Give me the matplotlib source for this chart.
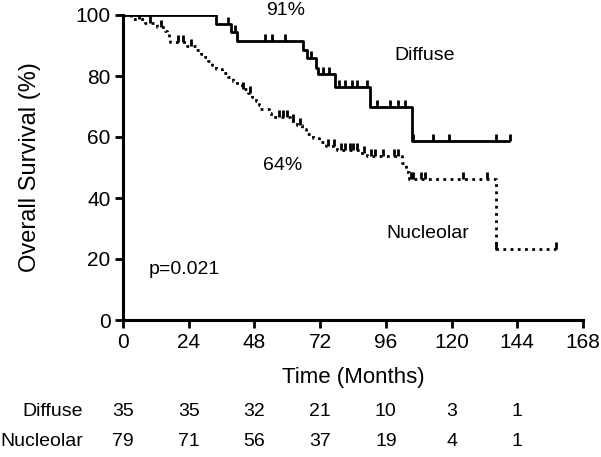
import matplotlib.pyplot as plt
import matplotlib.transforms as mtransforms
import numpy as np

plt.rcParams['font.family'] = ['Liberation Sans', 'DejaVu Sans']

# Kaplan-Meier steps (time in months, survival in %)
diffuse_t = [0, 34.0, 39.3, 41.8, 65.6, 67.1, 70.5, 71.3, 77.4, 90.2, 105.4]
diffuse_s = [100, 97.1, 94.3, 91.5, 88.5, 85.8, 82.7, 80.6, 76.3, 69.9, 58.7]
diffuse_end = 141.3
diffuse_cens = [38.5, 41.0, 52.0, 54.3, 59.0, 68.7, 73.2, 75.3, 79.0, 81.1,
                83.5, 85.3, 89.0, 92.7, 97.5, 100.5, 103.0, 106.0, 113.3,
                119.1, 136.2, 141.3]

nucl_t = [0, 3, 8, 12.5, 15.5, 16.2, 16.8, 17.3, 23.5, 26.5, 28.5, 30, 31.2,
          32.5, 34, 36, 38.5, 40, 41.5, 43.5, 45.5, 47, 48.5, 49.5, 50, 53.3,
          54, 61, 63.5, 65.5, 67, 69.5, 71.5, 74, 78, 86.5, 89, 102, 103.5,
          104.3, 136.2]
nucl_s = [100, 98.7, 97.5, 96.2, 94.9, 93.7, 92.4, 91.1, 89.9, 88.6, 87.3,
          86.1, 84.8, 83.5, 82.3, 81.0, 79.7, 78.4, 77.1, 75.8, 74.5, 73.2,
          71.9, 70.6, 69.3, 68.0, 66.7, 65.3, 63.9, 62.5, 61.1, 59.7, 58.3,
          57.0, 55.8, 54.6, 53.7, 51.4, 48.6, 46.1, 23.3]
nucl_end = 158.1
nucl_cens = [6, 10, 14, 20, 22, 25, 44, 46.5, 57, 58.5, 60, 62, 64.5, 75, 77,
             79.5, 81, 83, 84, 85.5, 88, 90.5, 92, 95, 99, 100.5, 105, 106,
             109, 110.3, 124.3, 132.8, 136.2, 158.1]

risk_times = [0, 24, 48, 72, 96, 120, 144]
risk_groups = ['Diffuse', 'Nucleolar']
risk_diffuse = [35, 35, 32, 21, 10, 3, 1]
risk_nucl = [79, 71, 56, 37, 19, 4, 1]


def level_at(ts, ss, x):
    i = np.searchsorted(ts, x, side='right') - 1
    return ss[i]


fig = plt.figure(figsize=(6.01, 4.57), dpi=100)
ax = fig.add_axes([123 / 601, 1 - 320 / 457, 460 / 601, 305 / 457])

# Diffuse - solid
ax.step(diffuse_t + [diffuse_end], diffuse_s + [diffuse_s[-1]], where='post',
        color='black', lw=2, solid_capstyle='butt')
ax.plot(diffuse_cens, [level_at(diffuse_t, diffuse_s, c) for c in diffuse_cens],
        ls='none', marker=2, ms=5, mew=2, color='black')

# Nucleolar - dotted
ax.step(nucl_t + [nucl_end], nucl_s + [nucl_s[-1]], where='post',
        color='black', lw=2, ls=(0, (1, 1.6)))
ax.plot(nucl_cens, [level_at(nucl_t, nucl_s, c) for c in nucl_cens],
        ls='none', marker=2, ms=5, mew=2, color='black')

ax.set_xlim(0, 168)
ax.set_ylim(0, 100)
ax.set_xticks(np.arange(0, 169, 24))
ax.set_yticks(np.arange(0, 101, 20))
for s in ['top', 'right']:
    ax.spines[s].set_visible(False)
for s in ['left', 'bottom']:
    ax.spines[s].set_linewidth(2.2)
ax.tick_params(direction='out', length=6, width=2, labelsize=15, pad=3)
ax.set_xlabel('Time (Months)', fontsize=16, va='center')
ax.set_ylabel('Overall Survival (%)', fontsize=17, va='center')
ax.xaxis.set_label_coords(0.5, -0.19)
ax.yaxis.set_label_coords(-0.202, 0.5)

ax.text(59.5, 101.5, '91%', fontsize=14, ha='center', va='center', clip_on=False)
ax.text(58.4, 50.8, '64%', fontsize=14, ha='center', va='center')
ax.text(110, 86.6, 'Diffuse', fontsize=14, ha='center', va='center')
ax.text(111.4, 28.5, 'Nucleolar', fontsize=14, ha='center', va='center')
ax.text(22.3, 16.4, 'p=0.021', fontsize=14, ha='center', va='center')

# numbers at risk table, under the x ticks
trans = mtransforms.blended_transform_factory(ax.transData, fig.transFigure)
row_y = [412, 441]
for name, vals, y in zip(risk_groups, [risk_diffuse, risk_nucl], row_y):
    fig.text(83 / 601, 1 - y / 457, name, fontsize=14, ha='right', va='center')
    for t, v in zip(risk_times, vals):
        ax.text(t, 1 - y / 457, str(v), fontsize=14, ha='center', va='center',
                transform=trans, clip_on=False)

plt.savefig('out.png', dpi=100)
